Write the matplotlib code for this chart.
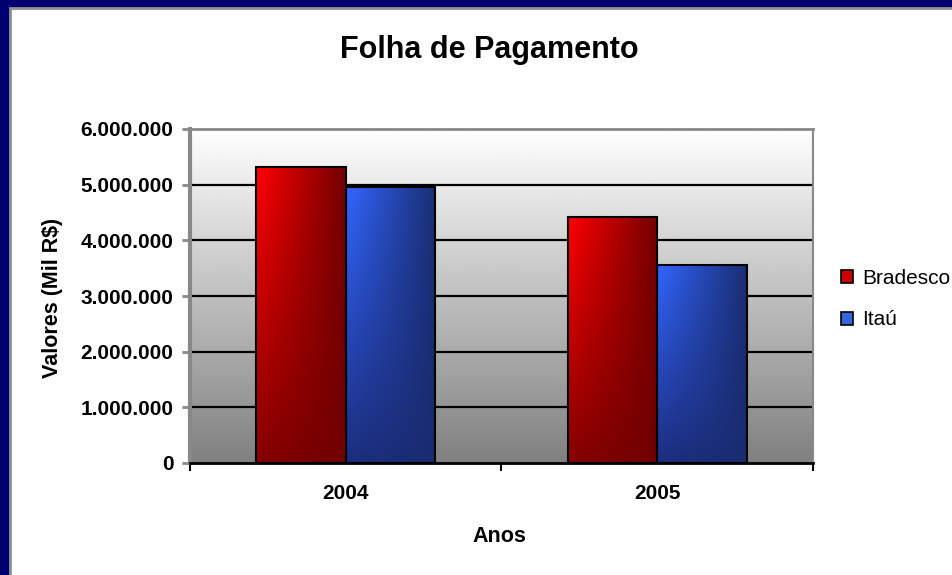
import numpy as np
import matplotlib.pyplot as plt
from matplotlib.patches import Rectangle, Patch
from matplotlib.ticker import FuncFormatter, FixedLocator

plt.rcParams['font.family'] = ['Liberation Sans', 'DejaVu Sans']

anos = ['2004', '2005']
bradesco = [5310000, 4420000]
itau = [4960000, 3560000]

# gradient corners (top-left, top-right, bottom-left, bottom-right)
red_corners = [(1.0, 0.0, 0.0), (0.45, 0.0, 0.0), (0.52, 0.0, 0.0), (0.44, 0.0, 0.0)]
blue_corners = [(0.2, 0.4, 1.0), (0.1, 0.18, 0.45), (0.11, 0.18, 0.5), (0.1, 0.17, 0.44)]


def bar_gradient(corners, n=64):
    tl, tr, bl, br = [np.array(c) for c in corners]
    tx = np.linspace(0, 1, n)[None, :, None]
    ty = np.linspace(0, 1, n)[:, None, None]
    top = tl + (tr - tl) * tx
    bot = bl + (br - bl) * tx
    return np.clip(top + (bot - top) * ty, 0, 1)


fig = plt.figure(figsize=(9.53, 5.75), dpi=100)
fig.patch.set_facecolor('#000070')

# white slide panel
fig.patches.append(Rectangle((10 / 953, -0.05), 1.0, 1 - 8 / 575 + 0.05,
                             transform=fig.transFigure, facecolor='white',
                             edgecolor='#909090', linewidth=2, zorder=0))

ax = fig.add_axes([190 / 953, (575 - 463) / 575, 623 / 953, 334 / 575])
ax.set_zorder(1)

ymax = 6000000
# plot area background: white at top to gray at bottom
bg = np.linspace(1.0, 0.5, 256)[:, None] * np.ones((1, 2))
ax.imshow(bg, cmap='gray', vmin=0, vmax=1, aspect='auto',
          extent=[-0.5, 1.5, 0, ymax], zorder=0, interpolation='bilinear')

for v in range(1000000, ymax, 1000000):
    ax.axhline(v, color='black', linewidth=1.6, zorder=1)

w = 0.287
x = np.arange(len(anos))
for vals, corners, off in [(bradesco, red_corners, -w / 2), (itau, blue_corners, w / 2)]:
    bars = ax.bar(x + off, vals, width=w, facecolor='none', edgecolor='black',
                  linewidth=1.5, zorder=3)
    for b in bars:
        x0 = b.get_x()
        im = ax.imshow(bar_gradient(corners), aspect='auto', interpolation='bilinear',
                       extent=[x0, x0 + b.get_width(), 0, b.get_height()], zorder=2)
        im.set_clip_path(b)

ax.set_xlim(-0.5, 1.5)
ax.set_ylim(0, ymax)

for s in ['left', 'top', 'right']:
    ax.spines[s].set_color('#888888')
ax.spines['left'].set_linewidth(3)
ax.spines['top'].set_linewidth(2)
ax.spines['right'].set_linewidth(1.5)
ax.spines['bottom'].set_color('black')
ax.spines['bottom'].set_linewidth(2)
ax.spines['bottom'].set_zorder(5)

ax.set_yticks(range(0, ymax + 1, 1000000))
ax.yaxis.set_major_formatter(FuncFormatter(lambda v, p: f"{int(v):,}".replace(',', '.')))
ax.tick_params(axis='y', colors='#888888', length=6, width=2, labelcolor='black',
               labelsize=15, pad=6)
for lbl in ax.get_yticklabels():
    lbl.set_fontweight('bold')

ax.set_xticks(x)
ax.set_xticklabels(anos, fontsize=15, fontweight='bold')
ax.xaxis.set_minor_locator(FixedLocator([-0.5, 0.5, 1.5]))
ax.tick_params(axis='x', which='major', length=0, pad=15)
ax.tick_params(axis='x', which='minor', length=6, width=1.5, color='black')

fig.text(499 / 953, 1 - 537 / 575, 'Anos', ha='center', va='center',
         fontsize=15.5, fontweight='bold')
fig.text(53 / 953, 1 - 298 / 575, 'Valores (Mil R$)', ha='center', va='center',
         rotation=90, fontsize=15.5, fontweight='bold')

fig.text(489 / 953, 1 - 50 / 575, 'Folha de Pagamento', ha='center', va='center',
         fontsize=22, fontweight='bold')

handles = [Patch(facecolor='#cc0000', edgecolor='black', linewidth=1.2),
           Patch(facecolor='#3366dd', edgecolor='black', linewidth=1.2)]
fig.legend(handles, ['Bradesco', 'Itaú'], loc='center left',
           bbox_to_anchor=(841 / 953, 1 - 299 / 575), frameon=False, fontsize=15,
           handlelength=0.6, handleheight=0.6, handletextpad=0.4,
           labelspacing=1.1, borderaxespad=0, borderpad=0.0)

fig.savefig('out.png', dpi=100, facecolor=fig.get_facecolor())
